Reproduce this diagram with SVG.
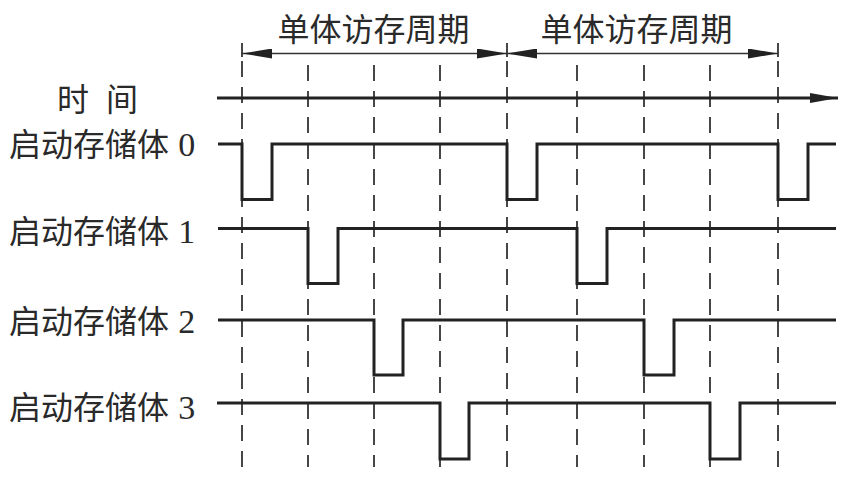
<svg xmlns="http://www.w3.org/2000/svg" width="849" height="482" viewBox="0 0 849 482">
<style>
.cjk{font-family:"Noto Sans CJK SC","Liberation Sans",sans-serif;font-size:32px;fill:#2a2a2a}
.dig{font-family:"Liberation Serif",serif;font-size:34px}
.wave{fill:none;stroke:#222;stroke-width:3;stroke-linejoin:miter}
.dash{stroke:#333;stroke-width:1.8;stroke-dasharray:16 10}
.dim{stroke:#333;stroke-width:1.3;fill:none}
.tick{stroke:#333;stroke-width:1.8}
</style>
<defs>
<marker id="ah" viewBox="0 0 30 10" refX="30" refY="5" markerWidth="30" markerHeight="10" markerUnits="userSpaceOnUse" orient="auto-start-reverse">
<path d="M0,0 L30,5 L0,10 Z" fill="#222"/>
</marker>
<marker id="ta" viewBox="0 0 28 10" refX="28" refY="5" markerWidth="28" markerHeight="10" markerUnits="userSpaceOnUse" orient="auto">
<path d="M0,0 L28,5 L0,10 Z" fill="#222"/>
</marker>
</defs>
<rect width="849" height="482" fill="#fff"/>
<g id="grid">
<line class="dash" x1="242" y1="61" x2="242" y2="467"/>
<line class="dash" x1="308" y1="65" x2="308" y2="467"/>
<line class="dash" x1="374" y1="65" x2="374" y2="467"/>
<line class="dash" x1="440" y1="65" x2="440" y2="467"/>
<line class="dash" x1="507" y1="61" x2="507" y2="467"/>
<line class="dash" x1="577" y1="65" x2="577" y2="467"/>
<line class="dash" x1="644" y1="65" x2="644" y2="467"/>
<line class="dash" x1="710" y1="65" x2="710" y2="467"/>
<line class="dash" x1="778" y1="61" x2="778" y2="467"/>
</g>
<g id="connectors">
<line class="tick" x1="242" y1="43" x2="242" y2="57"/>
<line class="tick" x1="507" y1="43" x2="507" y2="57"/>
<line class="tick" x1="778" y1="43" x2="778" y2="57"/>
<line class="dim" x1="242" y1="53.5" x2="507" y2="53.5" marker-start="url(#ah)" marker-end="url(#ah)"/>
<line class="dim" x1="507" y1="53.5" x2="778" y2="53.5" marker-start="url(#ah)" marker-end="url(#ah)"/>
<line x1="217" y1="98" x2="838" y2="98" stroke="#222" stroke-width="3" marker-end="url(#ta)"/>
</g>
<g id="cycle1"><text class="cjk" x="373.5" y="40.5" text-anchor="middle">单体访存周期</text></g>
<g id="cycle2"><text class="cjk" x="636.5" y="40.5" text-anchor="middle">单体访存周期</text></g>
<g id="time-label"><text class="cjk" x="57" y="111">时</text><text class="cjk" x="106" y="111">间</text></g>
<g id="bank0">
<text class="cjk" x="9" y="156">启动存储体 <tspan class="dig" dx="2">0</tspan></text>
<path class="wave" d="M218,144 H242 V199.5 H272 V144 H507 V199.5 H537 V144 H778 V199.5 H808 V144 H836"/>
</g>
<g id="bank1">
<text class="cjk" x="9" y="243">启动存储体 <tspan class="dig" dx="2">1</tspan></text>
<path class="wave" d="M218,228.5 H308 V283.5 H338 V228.5 H577 V283.5 H607 V228.5 H836"/>
</g>
<g id="bank2">
<text class="cjk" x="9" y="333">启动存储体 <tspan class="dig" dx="2">2</tspan></text>
<path class="wave" d="M218,320 H374 V375 H403 V320 H644 V375 H674 V320 H836"/>
</g>
<g id="bank3">
<text class="cjk" x="9" y="419">启动存储体 <tspan class="dig" dx="2">3</tspan></text>
<path class="wave" d="M217,403 H440 V459 H469 V403 H710 V459 H740 V403 H836"/>
</g>
</svg>
